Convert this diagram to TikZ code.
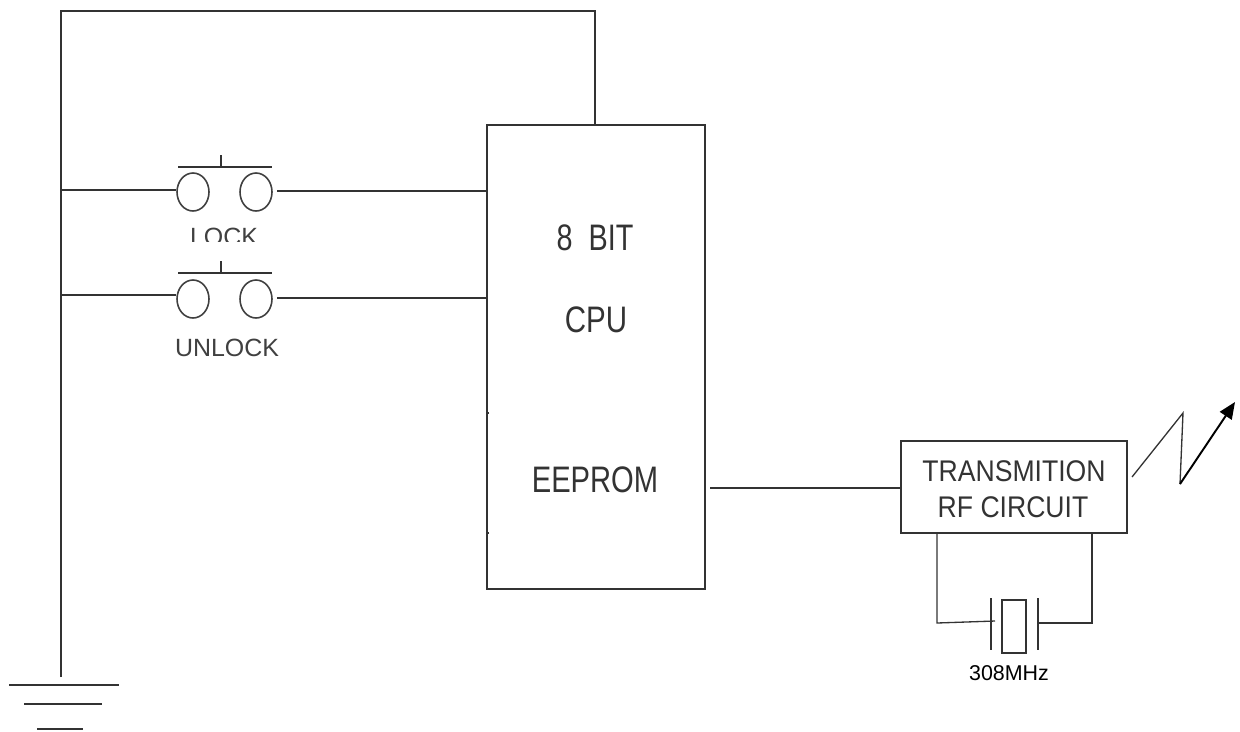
\documentclass[tikz,border=0pt]{standalone}
\usepackage{fontspec}
\usepackage{graphicx}
\setmainfont{Liberation Sans}
\usetikzlibrary{arrows.meta, shapes.geometric}
\tikzset{
    wire/.style={line width=0.75pt, black!80},
    contact/.style={draw, ellipse, line width=0.9pt, black!75, minimum width=0.64cm, minimum height=0.76cm, inner sep=0},
    blockbox/.style={draw, rectangle, line width=0.8pt, black!80, inner sep=0},
    biglabel/.style={inner sep=0, black!80, font=\fontsize{21}{25}\selectfont},
    rflabel/.style={inner sep=0, black!80, font=\fontsize{17}{20}\selectfont},
    keylabel/.style={inner sep=0, black!75, font=\fontsize{14.2}{17}\selectfont},
    freqlabel/.style={inner sep=0, black, font=\fontsize{12.2}{15}\selectfont}
}
\begin{document}
\begin{tikzpicture}[x=0.02cm, y=-0.02cm]
        \useasboundingbox (0, 0) rectangle (1240, 731);

        \node[blockbox, minimum width=4.36cm, minimum height=9.28cm] (cpu) at (596, 357) {};
        \node[biglabel] (bitlabel) at (595, 238) {\scalebox{0.78}[1]{8\ \ BIT}};
        \node[biglabel] (cpulabel) at (596, 320) {\scalebox{0.8}[1]{CPU}};
        \node[biglabel] (eeprom) at (595, 480) {\scalebox{0.79}[1]{EEPROM}};

        \node[contact] (lockL) at (193, 192) {};
        \node[contact] (lockR) at (256, 192) {};
        \node[contact] (unlockL) at (193, 299) {};
        \node[contact] (unlockR) at (256, 299) {};

        \begin{scope}
            \clip (170, 220) rectangle (280, 241.5);
            \node[keylabel, anchor=base] (locklabel) at (224, 245) {LOCK};
        \end{scope}
        \node[keylabel, anchor=base] (unlocklabel) at (227, 356) {UNLOCK};

        \coordinate (topL) at (61, 11);
        \coordinate (topR) at (595, 11);
        \coordinate (cputop) at (595, 125);
        \coordinate (gnd) at (61, 677);
        \draw[wire] (gnd) -- (topL) -- (topR) -- (cputop);

        \coordinate (lockbus) at (61, 190);
        \coordinate (unlockbus) at (61, 295);
        \draw[wire] (lockbus) -- (lockbus -| lockL.west);
        \draw[wire] (unlockbus) -- (unlockbus -| unlockL.west);

        \coordinate (lockout) at (277, 191);
        \coordinate (unlockout) at (277, 298);
        \draw[wire] (lockout) -- (lockout -| cpu.west);
        \draw[wire] (unlockout) -- (unlockout -| cpu.west);

        \coordinate (lockbarL) at (178, 167);
        \coordinate (lockbarR) at (272, 167);
        \coordinate (lockstem) at (221, 155);
        \draw[wire] (lockbarL) -- (lockbarR);
        \draw[wire] (lockstem) -- (lockstem |- lockbarL);

        \coordinate (unlockbarL) at (178, 273);
        \coordinate (unlockbarR) at (272, 273);
        \coordinate (unlockstem) at (221, 261);
        \draw[wire] (unlockbarL) -- (unlockbarR);
        \draw[wire] (unlockstem) -- (unlockstem |- unlockbarL);

        \coordinate (gndA) at (9, 685);
        \coordinate (gndB) at (119, 685);
        \coordinate (gndC) at (24, 704);
        \coordinate (gndD) at (102, 704);
        \coordinate (gndE) at (37, 729);
        \coordinate (gndF) at (83, 729);
        \draw[wire] (gndA) -- (gndB);
        \draw[wire] (gndC) -- (gndD);
        \draw[wire, line width=1pt] (gndE) -- (gndF);

        \coordinate (tickA) at (489, 413);
        \coordinate (tickB) at (489, 533);
        \draw[wire] (tickA) -- (tickA -| cpu.west);
        \draw[wire] (tickB) -- (tickB -| cpu.west);

        \node[blockbox, minimum width=4.52cm, minimum height=1.84cm] (rf) at (1014, 487) {};
        \node[rflabel] (txlabel) at (1014, 471) {\scalebox{0.89}[1]{TRANSMITION}};
        \node[rflabel] (rflabel) at (1013, 507) {\scalebox{0.89}[1]{RF CIRCUIT}};

        \coordinate (cpuout) at (710, 488);
        \draw[wire] (cpuout) -- (cpuout -| rf.west);

        \node[draw, rectangle, line width=0.7pt, black!80, inner sep=0, minimum width=0.48cm, minimum height=1.06cm] (crystal) at (1014, 626.5) {};
        \coordinate (plateLt) at (991, 598);
        \coordinate (plateLb) at (991, 650);
        \coordinate (plateRt) at (1038, 598);
        \coordinate (plateRb) at (1038, 650);
        \draw[wire] (plateLt) -- (plateLb);
        \draw[wire] (plateRt) -- (plateRb);
        \node[freqlabel] (freq) at (1009, 673) {308MHz};

        \coordinate (xtalL) at (937, 623);
        \coordinate (xtalR) at (1092, 623);
        \coordinate (xtalLend) at (995, 621);
        \draw[wire] (xtalL |- rf.south) -- (xtalL) -- (xtalLend);
        \draw[wire] (xtalR |- rf.south) -- (xtalR) -- (xtalR -| plateRt);

        \coordinate (waveA) at (1132, 477);
        \coordinate (waveB) at (1183, 413);
        \coordinate (waveC) at (1180, 484);
        \coordinate (waveD) at (1235, 402);
        \draw[wire] (waveA) -- (waveB) -- (waveC);
        \draw[-{Triangle[length=9.5pt, width=8pt]}, line width=1.1pt, black] (waveC) -- (waveD);
    \end{tikzpicture}
\end{document}
